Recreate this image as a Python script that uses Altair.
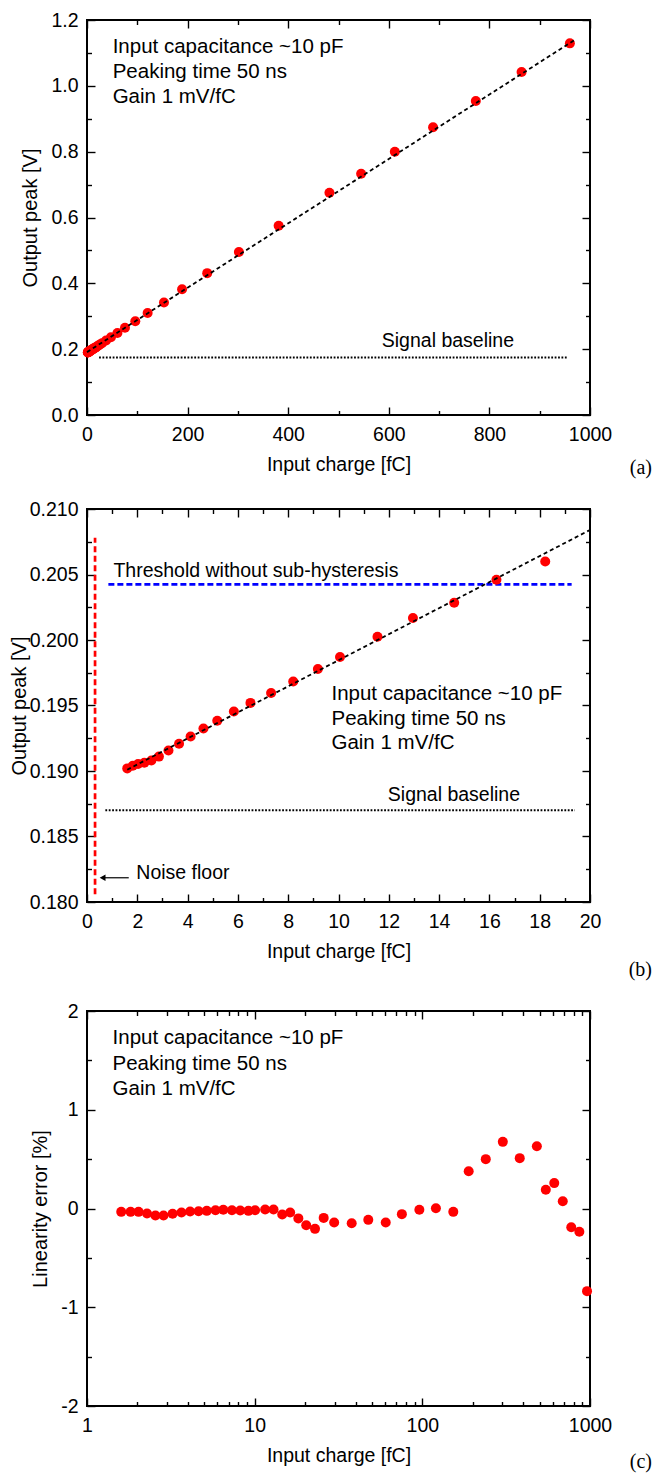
import altair as alt
import pandas as pd

FONT = "Liberation Sans"
SERIF = "Liberation Serif"
RED = "#ff0000"

# ---------------- data ----------------
charge = [1.6, 1.82, 2.03, 2.28, 2.56, 2.86, 3.24, 3.66, 4.12, 4.63, 5.18, 5.84, 6.5, 7.32,
          8.2, 9.18, 10.06, 11.55, 12.96, 14.6, 16.28, 18.22,
          20.3, 22.9, 25.8, 29.8, 37.9, 47.6, 60.5, 75.5, 96, 120.5, 153,
          189, 239, 302, 381, 482, 545, 612, 688, 773, 864, 960]
peak_low = [0.1902, 0.1904, 0.19053, 0.19063, 0.1908, 0.1911, 0.19157, 0.19208, 0.19264,
            0.19325, 0.19383, 0.19454, 0.1952, 0.19596, 0.19683, 0.19779, 0.1987, 0.20025,
            0.20168, 0.20284, 0.2046, 0.20599]
peak_high = [0.2087, 0.2113, 0.2141, 0.2181, 0.2261, 0.236, 0.249, 0.265, 0.285, 0.310, 0.342,
             0.382, 0.431, 0.495, 0.575, 0.675, 0.733, 0.800, 0.874, 0.954, 1.042, 1.129]
lin_err = [-0.034, -0.034, -0.034, -0.05, -0.07, -0.07, -0.054, -0.04, -0.03, -0.027, -0.024,
           -0.017, -0.013, -0.017, -0.02, -0.024, -0.017, -0.01, -0.01, -0.06, -0.04, -0.10,
           -0.17, -0.206, -0.095, -0.142, -0.149, -0.115, -0.142, -0.057, -0.013, 0.003, -0.034,
           0.378, 0.50, 0.675, 0.51, 0.631, 0.189, 0.257, 0.074, -0.189, -0.236, -0.837]

fit_a_x = [0, 968]
fit_a_y = [0.191, 1.138]
base_a_x = [24, 956]
base_a_y = 0.175
fit_b_x = [1.6, 20]
fit_b_y = [0.1901, 0.2084]
base_b_x = [0.73, 19.4]
base_b_y = 0.187
thr_b_x = [0.85, 19.27]
thr_b_y = 0.20425
noise_x = 0.32
noise_y = [0.1806, 0.2078]
arrow_x = [0.62, 1.66]
arrow_y = 0.18185

annot_lines = ["Input capacitance ~10 pF", "Peaking time 50 ns", "Gain 1 mV/fC"]
annot_a_x, annot_a_y = 51, [1.119, 1.043, 0.966]
annot_b_x, annot_b_y = 9.72, [0.19586, 0.19398, 0.19211]
annot_c_x, annot_c_y = 1.42, [1.725, 1.466, 1.207]

# tick values
a_xmaj = [0, 200, 400, 600, 800, 1000]
a_xmin = [100, 300, 500, 700, 900]
a_ymaj = [0.0, 0.2, 0.4, 0.6, 0.8, 1.0, 1.2]
a_ymin = [0.1, 0.3, 0.5, 0.7, 0.9, 1.1]
b_xmaj = [0, 2, 4, 6, 8, 10, 12, 14, 16, 18, 20]
b_xmin = [1, 3, 5, 7, 9, 11, 13, 15, 17, 19]
b_ymaj = [0.180, 0.185, 0.190, 0.195, 0.200, 0.205, 0.210]
b_ymin = [0.1825, 0.1875, 0.1925, 0.1975, 0.2025, 0.2075]
c_xmaj = [1, 10, 100, 1000]
c_xmin = [2, 3, 4, 5, 6, 7, 8, 9, 20, 30, 40, 50, 60, 70, 80, 90,
          200, 300, 400, 500, 600, 700, 800, 900]
c_ymaj = [-2, -1, 0, 1, 2]
c_ymin = [-1.5, -0.5, 0.5, 1.5]

W = 503
MAJ, MIN = 8, 4.5
TXT = 20.5
TXT2 = 19.5


def tick_axis(orient, values, size):
    return alt.Axis(orient=orient, values=values, labels=False, domain=False, grid=False,
                    ticks=True, tickSize=size, offset=-size, tickColor="black",
                    tickWidth=1.4, title=None)


def tick_layers(df, xscale, yscale, xmaj, xmin, ymaj, ymin):
    out = []
    for ox, oy, xv, yv, s in [("bottom", "left", xmaj, ymaj, MAJ),
                              ("bottom", "left", xmin, ymin, MIN),
                              ("top", "right", xmaj, ymaj, MAJ),
                              ("top", "right", xmin, ymin, MIN)]:
        out.append(alt.Chart(df).mark_point(opacity=0).encode(
            x=alt.X("x:Q", scale=xscale, axis=tick_axis(ox, xv, s)),
            y=alt.Y("y:Q", scale=yscale, axis=tick_axis(oy, yv, s))))
    return out


def main_layer(df, xscale, yscale, xmaj, ymaj, xtitle, ytitle, xfmt, yaxis_extra):
    xa = alt.Axis(orient="bottom", values=xmaj, ticks=False, domain=False, grid=False,
                  labelPadding=10, labelFlush=False, labelOverlap=False, format=xfmt,
                  title=xtitle, titlePadding=12, titleFontSize=19.5)
    ya = alt.Axis(orient="left", values=ymaj, ticks=False, domain=False, grid=False,
                  labelPadding=9, labelOverlap=False, title=ytitle, titleFontSize=20,
                  **yaxis_extra)
    return alt.Chart(df).mark_circle(color=RED, opacity=1, size=100).encode(
        x=alt.X("x:Q", scale=xscale, axis=xa),
        y=alt.Y("y:Q", scale=yscale, axis=ya))


def line_layer(df, xscale, yscale, **mark):
    return alt.Chart(df).mark_line(**mark).encode(
        x=alt.X("x:Q", scale=xscale, axis=None),
        y=alt.Y("y:Q", scale=yscale, axis=None))


def text_layer(df, xscale, yscale, size):
    return alt.Chart(df).mark_text(align="left", baseline="middle", font=FONT,
                                   fontSize=size, color="black").encode(
        x=alt.X("x:Q", scale=xscale, axis=None),
        y=alt.Y("y:Q", scale=yscale, axis=None),
        text="t:N")


def tag(label, dy):
    return alt.TitleParams(text=label, orient="bottom", anchor="end", frame="group", dx=62,
                           dy=dy, font=SERIF, fontSize=20, fontWeight="normal",
                           color="black", offset=0)


# ---------------- panel (a) ----------------
xs_a = alt.Scale(domain=[0, 1000], nice=False, zero=False)
ys_a = alt.Scale(domain=[0, 1.2], nice=False, zero=False)
df_a = pd.DataFrame({"x": charge, "y": peak_low + peak_high})
fit_a = pd.DataFrame({"x": fit_a_x, "y": fit_a_y})
base_a = pd.DataFrame({"x": base_a_x, "y": [base_a_y, base_a_y]})
txt_a = pd.DataFrame({"x": [annot_a_x] * 3, "y": annot_a_y, "t": annot_lines})
txt_a2 = pd.DataFrame({"x": [586], "y": [0.2248], "t": ["Signal baseline"]})

panel_a = alt.layer(
    *tick_layers(df_a, xs_a, ys_a, a_xmaj, a_xmin, a_ymaj, a_ymin),
    line_layer(base_a, xs_a, ys_a, color="black", strokeWidth=2, strokeDash=[1.8, 1.6]),
    main_layer(df_a, xs_a, ys_a, a_xmaj, a_ymaj, "Input charge [fC]", "Output peak [V]",
               "d", {"format": ".1f", "titlePadding": 10}),
    line_layer(fit_a, xs_a, ys_a, color="black", strokeWidth=1.8, strokeDash=[4, 3]),
    text_layer(txt_a, xs_a, ys_a, TXT),
    text_layer(txt_a2, xs_a, ys_a, TXT2),
).resolve_axis(x="independent", y="independent").properties(
    width=W, height=395, title=tag("(a)", -16))

# ---------------- panel (b) ----------------
xs_b = alt.Scale(domain=[0, 20], nice=False, zero=False)
ys_b = alt.Scale(domain=[0.180, 0.210], nice=False, zero=False)
df_b = pd.DataFrame({"x": charge[:len(peak_low)], "y": peak_low})
fit_b = pd.DataFrame({"x": fit_b_x, "y": fit_b_y})
base_b = pd.DataFrame({"x": base_b_x, "y": [base_b_y, base_b_y]})
thr_b = pd.DataFrame({"x": thr_b_x, "y": [thr_b_y, thr_b_y]})
noise_b = pd.DataFrame({"x": [noise_x, noise_x], "y": noise_y})
arrow_b = pd.DataFrame({"x": arrow_x, "y": [arrow_y, arrow_y]})
head_b = pd.DataFrame({"x": [arrow_x[0]], "y": [arrow_y]})
txt_b = pd.DataFrame({"x": [annot_b_x] * 3, "y": annot_b_y, "t": annot_lines})
txt_b2 = pd.DataFrame({"x": [11.96, 1.05, 1.96], "y": [0.18815, 0.2053, 0.18223],
                       "t": ["Signal baseline", "Threshold without sub-hysteresis",
                             "Noise floor"]})

panel_b = alt.layer(
    *tick_layers(df_b, xs_b, ys_b, b_xmaj, b_xmin, b_ymaj, b_ymin),
    line_layer(base_b, xs_b, ys_b, color="black", strokeWidth=2, strokeDash=[1.8, 1.6]),
    line_layer(thr_b, xs_b, ys_b, color="#0000ff", strokeWidth=2.7, strokeDash=[6, 3]),
    line_layer(noise_b, xs_b, ys_b, color=RED, strokeWidth=2.7, strokeDash=[6, 3.5]),
    line_layer(arrow_b, xs_b, ys_b, color="black", strokeWidth=1.2),
    alt.Chart(head_b).mark_point(shape="triangle-left", filled=True, color="black",
                                 opacity=1, size=45).encode(
        x=alt.X("x:Q", scale=xs_b, axis=None), y=alt.Y("y:Q", scale=ys_b, axis=None)),
    main_layer(df_b, xs_b, ys_b, b_xmaj, b_ymaj, "Input charge [fC]", "Output peak [V]",
               "d", {"format": ".3f", "titlePadding": 0}),
    line_layer(fit_b, xs_b, ys_b, color="black", strokeWidth=1.8, strokeDash=[4, 3]),
    text_layer(txt_b, xs_b, ys_b, TXT),
    text_layer(txt_b2, xs_b, ys_b, TXT2),
).resolve_axis(x="independent", y="independent").properties(
    width=W, height=393, title=tag("(b)", -1))

# ---------------- panel (c) ----------------
xs_c = alt.Scale(type="log", domain=[1, 1000], nice=False)
ys_c = alt.Scale(domain=[-2, 2], nice=False, zero=False)
df_c = pd.DataFrame({"x": charge, "y": lin_err})
txt_c = pd.DataFrame({"x": [annot_c_x] * 3, "y": annot_c_y, "t": annot_lines})

panel_c = alt.layer(
    *tick_layers(df_c, xs_c, ys_c, c_xmaj, c_xmin, c_ymaj, c_ymin),
    main_layer(df_c, xs_c, ys_c, c_xmaj, c_ymaj, "Input charge [fC]", "Linearity error [%]",
               "d", {"labelExpr": "replace(datum.label, '\u2212', '-')", "titlePadding": 10}),
    text_layer(txt_c, xs_c, ys_c, TXT),
).resolve_axis(x="independent", y="independent").properties(
    width=W, height=395, title=tag("(c)", -13))

chart = alt.vconcat(panel_a, panel_b, panel_c, spacing=19).properties(
    padding={"left": 0, "top": 1, "right": 0, "bottom": 0}
).configure_view(
    stroke="black", strokeWidth=2
).configure_axis(
    grid=False, labelFont=FONT, titleFont=FONT, labelColor="black", titleColor="black",
    labelFontSize=19.5, titleFontWeight="normal"
)

chart.save("out.html", embed_options={"renderer": "svg", "actions": False})
